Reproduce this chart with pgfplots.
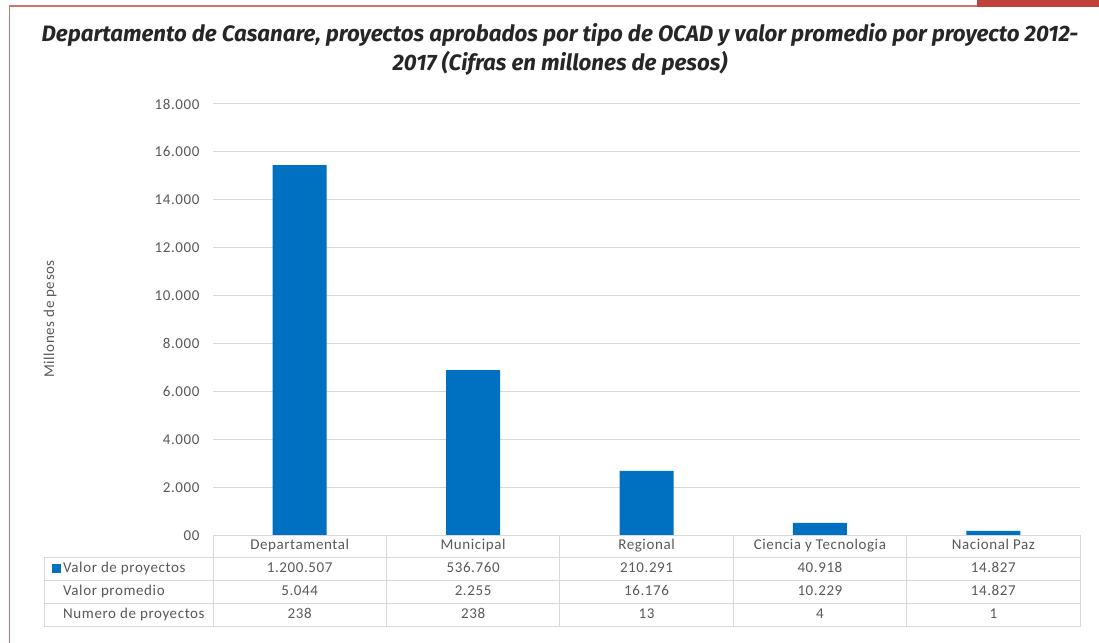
\documentclass[border=0pt]{standalone}
\usepackage{pgfplots}
\pgfplotsset{compat=1.18}
\usepackage{fontspec}
\setmainfont{Carlito}[LetterSpace=4]
\newfontfamily\titlefont{Fira Sans}
\definecolor{barblue}{HTML}{0070C0}
\definecolor{txtgray}{HTML}{595959}
\definecolor{gridgray}{HTML}{D9D9D9}
\definecolor{framered}{HTML}{D0746C}
\definecolor{tabred}{HTML}{C0413A}
\begin{document}
\begin{tikzpicture}
\begin{scope}[x=1bp,y=1bp]
\useasboundingbox (0,0) rectangle (1099,643);
\fill[white] (0,0) rectangle (1099,643);
\draw[framered, line width=1.6bp] (9.5,0) -- (9.5,637) -- (977,637);
\fill[tabred] (977,636) rectangle (1099,643);
\node[font=\titlefont\bfseries\itshape\fontsize{22.3bp}{29bp}\selectfont, align=center, text=black!85] at (560,594)
  {Departamento de Casanare, proyectos aprobados por tipo de OCAD y valor promedio por proyecto 2012-\\2017 (Cifras en millones de pesos)};
\node[rotate=90, font=\fontsize{15bp}{17bp}\selectfont, text=txtgray] at (50,324) {Millones de pesos};
\end{scope}
\begin{axis}[
  at={(213bp,107.5bp)}, anchor=south west, scale only axis,
  width=867bp, height=431.5bp,
  xmin=-0.5, xmax=4.5, ymin=0, ymax=18000,
  ybar, bar width=54bp,
  axis line style={draw=none},
  major tick length=0pt,
  scaled y ticks=false,
  ymajorgrids, grid style={gridgray, line width=1bp},
  ytick={0,2000,4000,6000,8000,10000,12000,14000,16000,18000},
  yticklabels={00,2.000,4.000,6.000,8.000,10.000,12.000,14.000,16.000,18.000},
  xtick={0,1,2,3,4},
  xticklabels={Departamental,Municipal,Regional,Ciencia y Tecnologia,Nacional Paz},
  ticklabel style={font=\fontsize{15bp}{17bp}\selectfont, text=txtgray},
  yticklabel style={xshift=-10bp},
  xticklabel style={text height=1.5ex, text depth=.25ex, yshift=-3bp},
  /pgf/number format/assume math mode=true,
  clip=false]
\addplot[fill=barblue, draw=none] coordinates {(0,15450) (1,6900) (2,2700) (3,526) (4,191)};
\end{axis}
\begin{scope}[x=1bp,y=1bp]
\draw[gridgray, line width=1bp] (213,107.5) -- (1080,107.5);
\foreach \yy in {85.5,62.5,39,16} {\draw[gridgray, line width=1bp] (44,\yy) -- (1080,\yy);}
\draw[gridgray, line width=1bp] (44,16) -- (44,85.5);
\foreach \xx in {213,386.4,559.8,733.2,906.6,1080} {\draw[gridgray, line width=1bp] (\xx,16) -- (\xx,107.5);}
\fill[barblue] (51.5,69.5) rectangle (60.5,78.5);
\begin{scope}[every node/.style={font=\fontsize{15bp}{17bp}\selectfont, text=txtgray, text height=1.5ex, text depth=.25ex, inner sep=0pt}]
\node[anchor=west] at (63,73.5) {Valor de proyectos};
\node[anchor=west] at (63,50.25) {Valor promedio};
\node[anchor=west] at (63,27) {Numero de proyectos};
\node at (299.7,73.5) {1.200.507};
\node at (473.1,73.5) {536.760};
\node at (646.5,73.5) {210.291};
\node at (819.9,73.5) {40.918};
\node at (993.3,73.5) {14.827};
\node at (299.7,50.25) {5.044};
\node at (473.1,50.25) {2.255};
\node at (646.5,50.25) {16.176};
\node at (819.9,50.25) {10.229};
\node at (993.3,50.25) {14.827};
\node at (299.7,27) {238};
\node at (473.1,27) {238};
\node at (646.5,27) {13};
\node at (819.9,27) {4};
\node at (993.3,27) {1};
\end{scope}
\end{scope}
\end{tikzpicture}
\end{document}
